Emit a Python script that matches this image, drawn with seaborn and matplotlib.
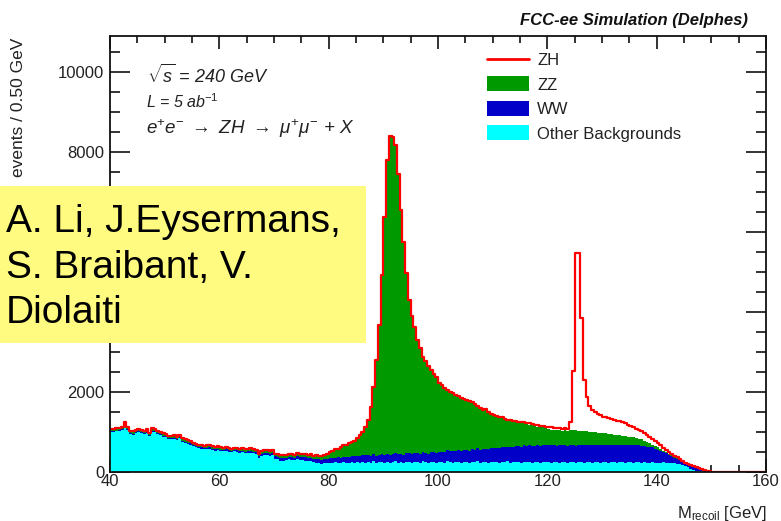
import numpy as np
import pandas as pd
import matplotlib
matplotlib.use("Agg")
import matplotlib.pyplot as plt
import seaborn as sns
from matplotlib.lines import Line2D
from matplotlib.patches import Patch, Rectangle

# recoil mass, 0.5 GeV bins from 40 to 160 GeV (one row = 5 GeV)
edges = np.arange(40, 160.5, 0.5)
centers = edges[:-1] + 0.25

other = [
    1000, 1000, 1010, 1020, 1040, 1170, 1050, 940, 930, 980,
    990, 960, 940, 980, 900, 1000, 990, 950, 920, 880,
    860, 830, 810, 820, 790, 840, 750, 720, 700, 680,
    640, 610, 590, 580, 560, 570, 580, 550, 530, 540,
    520, 510, 530, 500, 490, 510, 500, 480, 490, 470,
    470, 480, 460, 440, 340, 390, 430, 420, 400, 410,
    330, 310, 280, 270, 290, 310, 300, 290, 320, 300,
    290, 280, 270, 260, 240, 230, 220, 200, 230, 220,
    230, 220, 240, 230, 210, 240, 230, 220, 250, 230,
    240, 220, 250, 230, 240, 220, 260, 230, 240, 250,
    230, 250, 220, 240, 260, 230, 240, 220, 250, 240,
    230, 250, 240, 220, 260, 240, 230, 250, 240, 230,
    240, 250, 230, 260, 240, 230, 250, 240, 230, 250,
    240, 230, 250, 240, 260, 230, 240, 250, 230, 240,
    250, 240, 230, 250, 240, 260, 230, 240, 250, 240,
    230, 250, 240, 250, 230, 240, 250, 230, 240, 250,
    240, 230, 250, 240, 230, 250, 240, 230, 250, 240,
    230, 250, 240, 230, 250, 240, 230, 250, 240, 230,
    240, 250, 230, 240, 250, 230, 240, 250, 230, 240,
    240, 230, 250, 240, 230, 240, 220, 230, 240, 220,
    230, 220, 240, 230, 220, 230, 210, 200, 190, 170,
    150, 110, 80, 50, 30, 15, 8, 4, 2, 0,
    0, 0, 0, 0, 0, 0, 0, 0, 0, 0,
    0, 0, 0, 0, 0, 0, 0, 0, 0, 0,
]

ww = [
    20, 25, 20, 20, 25, 20, 20, 25, 20, 20,
    20, 25, 20, 25, 20, 20, 25, 20, 25, 20,
    25, 20, 25, 25, 20, 25, 30, 25, 25, 30,
    25, 30, 25, 30, 30, 25, 30, 30, 35, 30,
    30, 35, 30, 35, 30, 40, 35, 35, 40, 35,
    40, 45, 40, 50, 45, 50, 45, 55, 50, 55,
    60, 55, 65, 70, 60, 70, 75, 65, 70, 80,
    75, 85, 80, 90, 85, 95, 90, 100, 95, 105,
    110, 120, 110, 130, 140, 130, 150, 140, 150, 160,
    160, 170, 160, 180, 170, 180, 190, 170, 180, 190,
    190, 200, 190, 210, 200, 210, 200, 190, 210, 220,
    220, 210, 230, 220, 240, 230, 220, 240, 250, 240,
    260, 250, 270, 280, 270, 290, 280, 300, 290, 300,
    310, 300, 320, 310, 330, 320, 340, 330, 340, 350,
    350, 360, 370, 360, 380, 370, 390, 380, 390, 400,
    400, 410, 400, 420, 410, 400, 420, 410, 420, 410,
    420, 430, 420, 410, 430, 420, 430, 420, 410, 420,
    420, 430, 420, 430, 420, 430, 440, 430, 440, 430,
    440, 430, 450, 440, 430, 450, 440, 430, 450, 440,
    430, 440, 420, 430, 420, 410, 400, 390, 370, 350,
    320, 300, 250, 230, 200, 160, 140, 130, 100, 80,
    60, 60, 60, 65, 70, 65, 55, 40, 25, 12,
    0, 0, 0, 0, 0, 0, 0, 0, 0, 0,
    0, 0, 0, 0, 0, 0, 0, 0, 0, 0,
]

zz = [
    50, 45, 50, 55, 50, 45, 50, 55, 50, 45,
    50, 55, 45, 50, 50, 55, 50, 45, 50, 55,
    50, 45, 50, 55, 50, 45, 50, 55, 50, 45,
    50, 55, 45, 50, 50, 55, 50, 45, 50, 55,
    50, 45, 55, 50, 50, 45, 55, 50, 50, 55,
    55, 50, 55, 50, 55, 60, 55, 50, 55, 60,
    55, 60, 55, 60, 65, 60, 55, 60, 65, 60,
    65, 70, 65, 75, 70, 80, 75, 85, 90, 100,
    145, 175, 195, 205, 255, 275, 285, 340, 335, 375,
    435, 510, 575, 700, 875, 1210, 1660, 2375, 3235, 4465,
    5940, 7325, 7975, 7915, 7695, 7005, 6085, 5325, 4485, 3825,
    3435, 3145, 2805, 2635, 2355, 2275, 2175, 2035, 1945, 1875,
    1710, 1640, 1570, 1480, 1470, 1420, 1380, 1340, 1310, 1260,
    1230, 1220, 1150, 1120, 1030, 1020, 950, 960, 900, 840,
    785, 765, 745, 745, 685, 645, 645, 635, 605, 585,
    580, 560, 550, 510, 530, 500, 460, 480, 450, 440,
    400, 390, 380, 390, 380, 360, 370, 380, 380, 380,
    390, 350, 370, 360, 340, 330, 320, 310, 300, 310,
    280, 280, 270, 260, 250, 240, 230, 220, 210, 200,
    200, 190, 170, 160, 160, 130, 130, 100, 70, 70,
    60, 50, 40, 30, 30, 20, 20, 10, 10, 10,
    10, 10, 10, 10, 10, 10, 8, 5, 3, 3,
    0, 0, 0, 0, 0, 0, 0, 0, 0, 0,
    0, 0, 0, 0, 0, 0, 0, 0, 0, 0,
]

zh = [
    10, 10, 10, 10, 10, 10, 10, 10, 10, 10,
    10, 10, 10, 10, 10, 10, 10, 10, 10, 10,
    10, 10, 10, 10, 10, 10, 10, 10, 10, 10,
    10, 10, 10, 10, 10, 10, 10, 10, 10, 10,
    10, 10, 10, 10, 10, 10, 10, 10, 10, 10,
    10, 10, 10, 10, 10, 10, 10, 10, 10, 10,
    10, 10, 10, 10, 10, 10, 10, 10, 10, 10,
    10, 10, 10, 10, 10, 10, 10, 10, 10, 10,
    15, 15, 15, 15, 15, 15, 15, 15, 15, 15,
    15, 15, 15, 15, 15, 15, 15, 15, 15, 15,
    15, 15, 15, 15, 15, 15, 15, 15, 15, 15,
    15, 15, 15, 15, 15, 15, 15, 15, 15, 15,
    20, 20, 20, 20, 20, 20, 20, 20, 20, 20,
    20, 20, 20, 20, 20, 20, 20, 20, 20, 20,
    25, 25, 25, 25, 25, 25, 25, 25, 25, 25,
    30, 30, 30, 30, 30, 30, 30, 30, 30, 30,
    60, 60, 50, 60, 50, 50, 50, 50, 210, 1480,
    4435, 4445, 2805, 1280, 870, 650, 560, 500, 460, 440,
    420, 400, 390, 390, 370, 360, 350, 340, 320, 300,
    270, 250, 220, 220, 210, 200, 180, 160, 140, 120,
    100, 90, 70, 60, 50, 40, 30, 20, 10, 10,
    10, 10, 10, 10, 10, 5, 4, 1, 0, 0,
    0, 0, 0, 0, 0, 0, 0, 0, 0, 0,
    0, 0, 0, 0, 0, 0, 0, 0, 0, 0,
]

processes = ["ZZ", "WW", "Other Backgrounds"]
colors = {"ZZ": "#009900", "WW": "#0000c8", "Other Backgrounds": "#00ffff"}
credit_lines = ["A. Li, J.Eysermans,", "S. Braibant, V.", "Diolaiti"]

sns.set_theme(style="ticks")
plt.rcParams["font.family"] = ["Liberation Sans", "DejaVu Sans"]
plt.rcParams["mathtext.fontset"] = "custom"
plt.rcParams["mathtext.rm"] = "Liberation Sans"
plt.rcParams["mathtext.it"] = "Liberation Sans:italic"
plt.rcParams["mathtext.bf"] = "Liberation Sans:bold"

df = pd.DataFrame({
    "m": np.tile(centers, 3),
    "events": np.concatenate([zz, ww, other]),
    "process": np.repeat(processes, len(centers)),
})
total = np.array(other) + np.array(ww) + np.array(zz) + np.array(zh)

W, H = 781, 521
fig = plt.figure(figsize=(W / 100, H / 100), dpi=100)
ax = fig.add_axes([110 / W, 1 - 471.7 / H, 656 / W, 435.7 / H])

# stacked backgrounds, first hue level ends up on top
sns.histplot(data=df, x="m", weights="events", hue="process",
             hue_order=processes, multiple="stack", binwidth=0.5,
             binrange=(40, 160), element="step", fill=True, alpha=1,
             linewidth=0, palette=colors, legend=False, ax=ax)
# ZH drawn as outline on top of the stack
sns.histplot(x=centers, weights=total, binwidth=0.5, binrange=(40, 160),
             element="step", fill=False, color="#ff0000", linewidth=1.6, ax=ax)

ax.set_xlim(40, 160)
ax.set_ylim(0, 10900)
ax.set_xticks(np.arange(40, 161, 20))
ax.set_xticks(np.arange(40, 161, 5), minor=True)
ax.set_yticks(np.arange(0, 10001, 2000))
ax.set_yticks(np.arange(0, 10801, 500), minor=True)
ax.set_xlabel("")
ax.set_ylabel("")
ax.tick_params(axis="both", which="both", direction="in", top=True,
               right=True, width=1.2, color="#111111", labelsize=12,
               labelcolor="#222222")
ax.tick_params(axis="x", which="major", length=9.5, pad=2)
ax.tick_params(axis="x", which="minor", length=5)
ax.tick_params(axis="y", which="major", length=14.5, pad=4)
ax.tick_params(axis="y", which="minor", length=7.2)
for s in ax.spines.values():
    s.set_linewidth(1.3)
    s.set_color("#111111")

ax.text(147 / W, 1 - 83 / H, r"$\sqrt{s}$ = 240 GeV", transform=fig.transFigure,
        fontsize=13, fontstyle="italic", color="#222222")
ax.text(146 / W, 1 - 108 / H, r"L = 5 ab$^{-1}$", transform=fig.transFigure,
        fontsize=11.5, fontstyle="italic", color="#222222")
ax.text(146 / W, 1 - 134 / H,
        r"e$^{+}$e$^{-}$ $\rightarrow$ ZH $\rightarrow$ $\mu^{+}\mu^{-}$ + X",
        transform=fig.transFigure, fontsize=13.5, fontstyle="italic",
        color="#222222")

handles = [Line2D([], [], color="#ff0000", lw=2)]
handles += [Patch(facecolor=colors[p], edgecolor="none") for p in processes]
fig.legend(handles, ["ZH"] + processes, loc="upper left",
           bbox_to_anchor=(487 / W, 1 - 52 / H), frameon=False, fontsize=12,
           handlelength=2.5, handleheight=1.0, handletextpad=0.5,
           labelspacing=0.5, borderpad=0, borderaxespad=0,
           labelcolor="#222222")

fig.text(748 / W, 1 - 25 / H, "FCC-ee Simulation (Delphes)", ha="right",
         va="baseline", fontsize=12, fontweight="bold", fontstyle="italic",
         color="#111111")
fig.text(19 / W, 1 - 38 / H, "events / 0.50 GeV", rotation=90, ha="center",
         va="top", fontsize=12.5, color="#222222")
fig.text(767 / W, 1 - 518 / H, r"M$_{\mathrm{recoil}}$ [GeV]", ha="right",
         va="baseline", fontsize=12, color="#222222")

# yellow credit box pasted over the left part
fig.add_artist(Rectangle((0, 1 - 343 / H), 366 / W, 157 / H,
                         transform=fig.transFigure, facecolor="#fffa80",
                         edgecolor="none", zorder=5))
for line, base in zip(credit_lines, [232, 278, 323]):
    fig.text(6 / W, 1 - base / H, line, ha="left", va="baseline",
             fontsize=28, color="black", zorder=6)

fig.savefig("out.png", dpi=100)
